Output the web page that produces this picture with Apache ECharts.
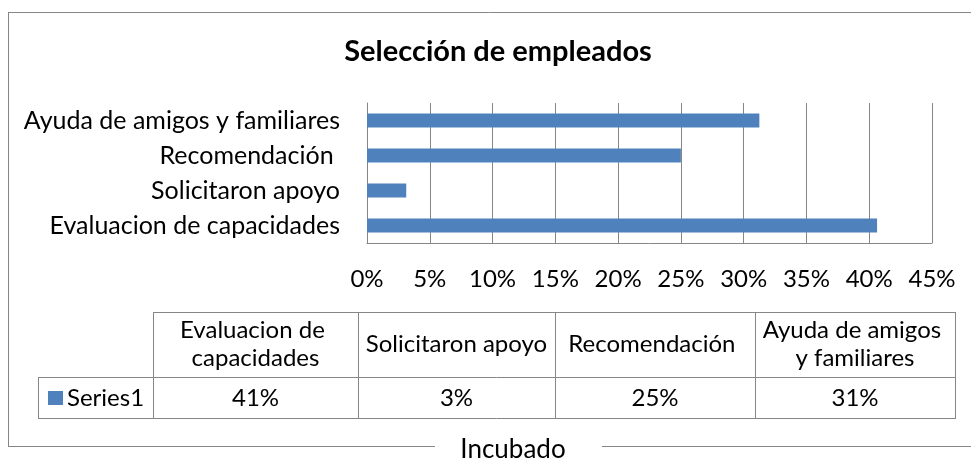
<!DOCTYPE html>
<html>
<head>
<meta charset="utf-8">
<script src="https://cdn.jsdelivr.net/npm/echarts@6/dist/echarts.min.js"></script>
<style>
html,body{margin:0;padding:0;background:#fff;}
#c{width:971px;height:459px;}
</style>
</head>
<body>
<div id="c"></div>
<script>
// ---- data ----
var titleText = 'Selección de empleados';
var footerText = 'Incubado';
var seriesName = 'Series1';
var categories = ['Evaluacion de capacidades', 'Solicitaron apoyo', 'Recomendación ', 'Ayuda de amigos y familiares'];
var values = [40.625, 3.125, 25, 31.25];
var tickMax = 45;
var tickStep = 5;

// ---- style / layout ----
var FONT = 'Lato, "Open Sans", sans-serif';
var BAR = '#4F81BD';
var LINE = '#868686';
var colX = [153, 358, 555, 755, 955];
var rowY = [312, 377, 418];
var legendLeft = 38;

var chart = echarts.init(document.getElementById('c'), null, {renderer: 'canvas'});

var g = [];
function hline(x1, x2, y) { g.push({type: 'line', silent: true, shape: {x1: x1, y1: y + 0.5, x2: x2, y2: y + 0.5}, style: {stroke: LINE, lineWidth: 1}}); }
function vline(x, y1, y2) { g.push({type: 'line', silent: true, shape: {x1: x + 0.5, y1: y1, x2: x + 0.5, y2: y2}, style: {stroke: LINE, lineWidth: 1}}); }

// outer border
hline(8, 971, 12);
vline(8, 12, 447);
hline(8, 435, 446);
hline(602, 971, 446);
g.push({type: 'text', silent: true, style: {x: 513, y: 450, text: footerText, font: '26px ' + FONT, fill: '#000', textAlign: 'center', textVerticalAlign: 'middle'}});

// title
g.push({type: 'text', silent: true, style: {x: 498, y: 52, text: titleText, font: 'bold 29px ' + FONT, fill: '#000', textAlign: 'center', textVerticalAlign: 'middle'}});

// data table
hline(colX[0], colX[4], rowY[0]);
hline(legendLeft, colX[4], rowY[1]);
hline(legendLeft, colX[4], rowY[2]);
vline(legendLeft, rowY[1], rowY[2] + 1);
colX.forEach(function (x) { vline(x, rowY[0], rowY[2] + 1); });
categories.forEach(function (c, i) {
  var cx = (colX[i] + colX[i + 1]) / 2;
  g.push({type: 'text', silent: true, style: {x: cx, y: (rowY[0] + rowY[1]) / 2, text: c, width: 194, overflow: 'break', lineHeight: 28, font: '24px ' + FONT, fill: '#000', align: 'center', verticalAlign: 'middle', textAlign: 'center', textVerticalAlign: 'middle'}});
  g.push({type: 'text', silent: true, style: {x: cx, y: (rowY[1] + rowY[2]) / 2 + 1, text: Math.round(values[i]) + '%', font: '24px ' + FONT, fill: '#000', textAlign: 'center', textVerticalAlign: 'middle'}});
});
g.push({type: 'rect', silent: true, shape: {x: 48, y: 391, width: 15, height: 14}, style: {fill: BAR}});
g.push({type: 'text', silent: true, style: {x: 67, y: (rowY[1] + rowY[2]) / 2 + 1, text: seriesName, font: '24px ' + FONT, fill: '#000', textAlign: 'left', textVerticalAlign: 'middle'}});

chart.setOption({
  animation: false,
  backgroundColor: '#fff',
  grid: {left: 367, right: 39, top: 103, bottom: 216, containLabel: false},
  xAxis: {
    type: 'value', min: 0, max: tickMax, interval: tickStep,
    axisLine: {show: true, lineStyle: {color: LINE}},
    axisTick: {show: false},
    splitLine: {show: true, lineStyle: {color: LINE}},
    axisLabel: {formatter: function (v) { return v + '%'; }, fontSize: 24, fontFamily: FONT, color: '#000', margin: 24}
  },
  yAxis: {
    type: 'category', data: categories,
    axisLine: {show: true, lineStyle: {color: LINE}},
    axisTick: {show: false},
    axisLabel: {fontSize: 25, fontFamily: FONT, color: '#000', margin: 27}
  },
  series: [{type: 'bar', name: seriesName, data: values, barWidth: 14, itemStyle: {color: BAR}}],
  graphic: g
});
</script>
</body>
</html>
